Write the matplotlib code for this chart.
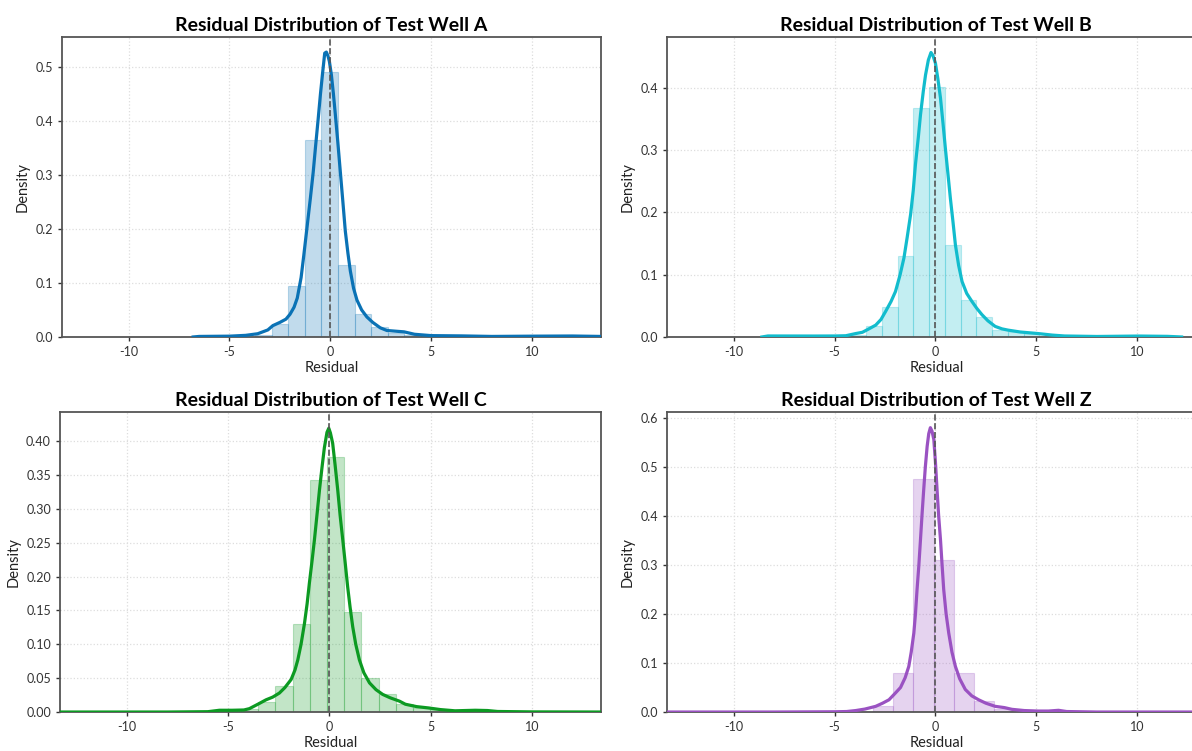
import numpy as np
import matplotlib
matplotlib.use("Agg")
import matplotlib.pyplot as plt

plt.rcParams['font.family'] = ['Lato', 'DejaVu Sans']
plt.rcParams['axes.unicode_minus'] = False

# ---- data ----
wells = ["A", "B", "C", "Z"]
line_colors = ["#0a72b5", "#12bccd", "#0c9a22", "#9a52c2"]

# histogram bins (first edge, bin width) and densities
bin_start_a, bin_width_a = -3.72, 0.82
hist_a = [0.004, 0.024, 0.095, 0.365, 0.49, 0.133, 0.043, 0.018, 0.008, 0.004, 0.002]
bin_start_b, bin_width_b = -4.21, 0.78
hist_b = [0.003, 0.018, 0.048, 0.13, 0.368, 0.402, 0.148, 0.059, 0.032, 0.011, 0.008, 0.004]
bin_start_c, bin_width_c = -5.22, 0.85
hist_c = [0.002, 0.004, 0.015, 0.039, 0.13, 0.343, 0.377, 0.147, 0.05, 0.026, 0.012, 0.006, 0.003]
bin_start_d, bin_width_d = -3.11, 1.005
hist_d = [0.012, 0.079, 0.475, 0.31, 0.079, 0.022, 0.006, 0.002, 0.003]

# KDE curves
kde_x_a = [-6.8, -6.5, -5.0, -4.2, -3.6, -3.1, -2.85, -2.5, -2.2, -2.0, -1.8, -1.64, -1.45, -1.32, -1.15,
           -0.99, -0.85, -0.74, -0.6, -0.49, -0.38, -0.28, -0.2, -0.12, -0.05, 0.05, 0.15, 0.25, 0.37,
           0.49, 0.62, 0.74, 0.87, 0.99, 1.15, 1.32, 1.55, 1.81, 2.1, 2.47, 2.8, 3.3, 3.65, 4.17, 5.0,
           6.5, 8.0, 10.0, 12.0, 13.4]
kde_y_a = [0.0, 0.001, 0.0015, 0.003, 0.006, 0.013, 0.021, 0.027, 0.033, 0.042, 0.055, 0.072, 0.11, 0.15, 0.205,
           0.257, 0.305, 0.35, 0.405, 0.45, 0.49, 0.525, 0.527, 0.52, 0.51, 0.485, 0.45, 0.41, 0.36,
           0.307, 0.25, 0.196, 0.155, 0.122, 0.09, 0.068, 0.05, 0.037, 0.027, 0.017, 0.012, 0.0105, 0.0095, 0.005, 0.0025,
           0.002, 0.001, 0.0015, 0.0018, 0.001]

kde_x_b = [-8.6, -8.3, -6.0, -4.95, -4.44, -3.95, -3.62, -3.3, -2.96, -2.7, -2.47, -2.2, -1.98, -1.75, -1.56,
           -1.4, -1.23, -1.1, -0.99, -0.85, -0.74, -0.6, -0.49, -0.35, -0.22, -0.12, 0.0, 0.12, 0.25,
           0.37, 0.49, 0.62, 0.74, 0.87, 0.99, 1.15, 1.32, 1.55, 1.81, 2.05, 2.3, 2.6, 2.96, 3.3, 3.6,
           4.2, 5.09, 5.8, 6.4, 8.0, 10.1, 11.5, 12.2]
kde_y_b = [0.0, 0.0016, 0.0015, 0.0016, 0.002, 0.0055, 0.0075, 0.013, 0.019, 0.028, 0.041, 0.057, 0.073, 0.1, 0.127,
           0.16, 0.197, 0.235, 0.277, 0.32, 0.357, 0.395, 0.421, 0.445, 0.457, 0.452, 0.44, 0.415, 0.384,
           0.345, 0.304, 0.262, 0.223, 0.185, 0.148, 0.115, 0.089, 0.07, 0.057, 0.046, 0.036, 0.026, 0.017, 0.013, 0.011,
           0.008, 0.0055, 0.003, 0.0016, 0.0008, 0.0015, 0.001, 0.0]

kde_x_c = [-13.3, -8.0, -6.0, -5.43, -4.8, -4.22, -3.95, -3.5, -3.13, -2.8, -2.47, -2.2, -1.89, -1.7, -1.56,
           -1.4, -1.23, -1.1, -0.99, -0.85, -0.74, -0.6, -0.49, -0.37, -0.25, -0.12, -0.03, 0.05, 0.16,
           0.28, 0.41, 0.53, 0.66, 0.78, 0.9, 1.02, 1.15, 1.3, 1.48, 1.7, 1.98, 2.3, 2.63, 3.0, 3.46,
           3.75, 4.3, 4.9, 5.48, 6.2, 7.2, 7.8, 8.3, 10.0, 13.4]
kde_y_c = [0.0, 0.0, 0.0005, 0.0026, 0.0026, 0.003, 0.005, 0.012, 0.018, 0.022, 0.028, 0.036, 0.048, 0.062, 0.077,
           0.1, 0.131, 0.16, 0.19, 0.225, 0.254, 0.295, 0.328, 0.36, 0.39, 0.413, 0.419, 0.412, 0.397,
           0.365, 0.328, 0.29, 0.254, 0.22, 0.185, 0.155, 0.126, 0.1, 0.077, 0.058, 0.043, 0.033, 0.026, 0.021, 0.016,
           0.0115, 0.008, 0.006, 0.0036, 0.0018, 0.0026, 0.0022, 0.0008, 0.0002, 0.0]

kde_x_d = [-13.3, -8.0, -5.0, -4.4, -3.95, -3.5, -2.96, -2.62, -2.3, -2.0, -1.73, -1.5, -1.32, -1.2, -1.07,
           -0.99, -0.91, -0.82, -0.74, -0.66, -0.58, -0.5, -0.41, -0.33, -0.25, -0.17, -0.08, 0.0, 0.08,
           0.16, 0.25, 0.33, 0.41, 0.53, 0.66, 0.82, 0.99, 1.2, 1.48, 1.8, 2.14, 2.5, 2.96, 3.42, 3.79,
           4.4, 5.09, 5.6, 6.1, 6.5, 8.0, 13.4]
kde_y_d = [0.0, 0.0, 0.0005, 0.001, 0.003, 0.006, 0.0116, 0.018, 0.025, 0.038, 0.05, 0.07, 0.093, 0.122, 0.161,
           0.2, 0.25, 0.3, 0.352, 0.405, 0.454, 0.5, 0.542, 0.568, 0.58, 0.573, 0.556, 0.51, 0.454,
           0.4, 0.352, 0.3, 0.25, 0.2, 0.161, 0.122, 0.093, 0.068, 0.046, 0.033, 0.025, 0.018, 0.0116, 0.009, 0.0055,
           0.003, 0.002, 0.002, 0.0035, 0.001, 0.0, 0.0]

ylims = [0.555, 0.482, 0.443, 0.612]
yticks = [np.arange(0, 0.51, 0.1), np.arange(0, 0.41, 0.1), np.arange(0, 0.41, 0.05), np.arange(0, 0.61, 0.1)]
yfmt = ["{:.1f}", "{:.1f}", "{:.2f}", "{:.1f}"]

hists = [(bin_start_a, bin_width_a, hist_a), (bin_start_b, bin_width_b, hist_b),
         (bin_start_c, bin_width_c, hist_c), (bin_start_d, bin_width_d, hist_d)]
kdes = [(kde_x_a, kde_y_a), (kde_x_b, kde_y_b), (kde_x_c, kde_y_c), (kde_x_d, kde_y_d)]

fig = plt.figure(figsize=(11.92, 7.51), dpi=100)
positions = [[0.052, 0.5513, 0.452, 0.3995], [0.5596, 0.5513, 0.452, 0.3995],
             [0.0503, 0.0519, 0.4538, 0.3995], [0.5596, 0.0519, 0.452, 0.3995]]

for i in range(4):
    ax = fig.add_axes(positions[i])
    start, w, h = hists[i]
    lefts = start + w * np.arange(len(h))
    col = line_colors[i]
    ax.bar(lefts, h, width=w, align='edge', color=col, alpha=0.25, edgecolor=col, linewidth=0.8, zorder=2)
    ax.plot(kdes[i][0], kdes[i][1], color=col, lw=2.3, zorder=3)
    ax.axvline(0, color='#555555', ls='--', lw=1.2, zorder=4)
    ax.set_xlim(-13.3, 13.4)
    ax.set_ylim(0, ylims[i])
    ax.set_xticks([-10, -5, 0, 5, 10])
    ax.set_yticks(yticks[i])
    ax.set_yticklabels([yfmt[i].format(v) for v in yticks[i]])
    ax.grid(True, ls=':', color='#dddddd', lw=0.9, zorder=0)
    ax.set_axisbelow(True)
    for s in ax.spines.values():
        s.set_color('#555555')
        s.set_linewidth(1.3)
    ax.tick_params(colors='#333333', labelsize=9, length=3, width=1.0)
    ax.set_title("Residual Distribution of Test Well " + wells[i], fontsize=14, fontweight='bold', pad=4)
    ax.set_xlabel("Residual", fontsize=10.5, color='#222222', labelpad=2)
    ax.set_ylabel("Density", fontsize=10.5, color='#222222')

fig.savefig("out.png", dpi=100)
